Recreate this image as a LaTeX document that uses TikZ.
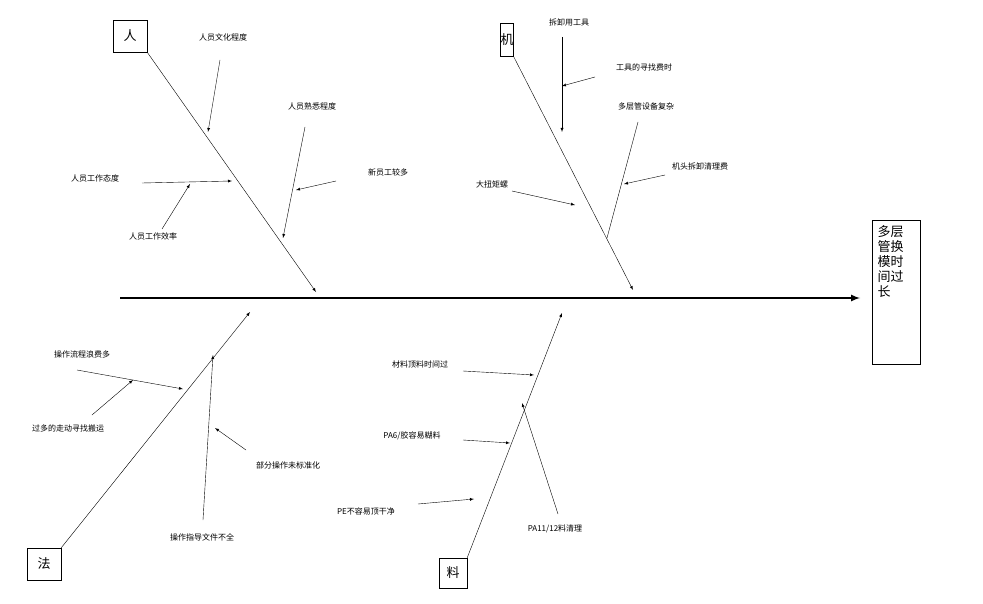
\documentclass[tikz,border=0pt]{standalone}
\usepackage{fontspec}
\setmainfont{Noto Sans CJK SC}
\begin{document}
\begin{tikzpicture}[x=1pt,y=-1pt,font=\fontsize{8}{9}\selectfont,
  lbl/.style={inner sep=1pt},
  cat/.style={draw=black,inner sep=2pt,font=\fontsize{13}{14}\selectfont},
  ar/.style={-latex,thin}]
\useasboundingbox (0,0) rectangle (983,604);
% effect and spine
\node[draw=black, minimum width=48, minimum height=144, anchor=north west, inner sep=0pt] (eff) at (872,220) {};
\node[anchor=north west, align=left, font=\fontsize{13}{15}\selectfont] (efft) at (874,222) {多层\\管换\\模时\\间过\\长};
\coordinate (s0) at (120,298);
\coordinate (s1) at (860,298);
\draw[-latex, line width=2pt] (s0) -- (s1);

% categories
\node[cat, minimum width=34, minimum height=32] (ren) at (130,36) {人};
\node[cat, minimum width=11, minimum height=33, inner sep=0pt] (ji) at (507,40) {机};
\node[cat, minimum width=34, minimum height=32] (fa) at (44,564) {法};
\node[cat, minimum width=28, minimum height=30] (liao) at (453,573) {料};

\coordinate (ren1) at (316,292);
\coordinate (ji1) at (633,290);
\coordinate (fa1) at (250,312);
\coordinate (liao1) at (562,313);
\draw[ar] (ren.south east) -- (ren1);
\draw[ar] (ji.south east) -- (ji1);
\draw[ar] (fa.north east) -- (fa1);
\draw[ar] (liao.north east) -- (liao1);

% 人
\node[lbl] (r1) at (223,37) {人员文化程度};
\node[lbl] (r2) at (312,106) {人员熟悉程度};
\node[lbl] (r3) at (388,172) {新员工较多};
\node[lbl] (r4) at (95,178) {人员工作态度};
\node[lbl] (r5) at (153,236) {人员工作效率};
\coordinate (r1a) at (220,60);  \coordinate (r1b) at (208,132);
\coordinate (r2a) at (305,127); \coordinate (r2b) at (283,238);
\coordinate (r3a) at (336,181); \coordinate (r3b) at (296,190);
\coordinate (r4a) at (142,183); \coordinate (r4b) at (232,181);
\coordinate (r5a) at (162,229); \coordinate (r5b) at (190,184);
\draw[ar] (r1a) -- (r1b);
\draw[ar] (r2a) -- (r2b);
\draw[ar] (r3a) -- (r3b);
\draw[ar] (r4a) -- (r4b);
\draw[ar] (r5a) -- (r5b);

% 机
\node[lbl] (j1) at (569,22) {拆卸用工具};
\node[lbl] (j2) at (644,67) {工具的寻找费时};
\node[lbl] (j3) at (646,106) {多层管设备复杂};
\node[lbl] (j4) at (700,166) {机头拆卸清理费};
\node[lbl] (j5) at (492,184) {大扭矩螺};
\coordinate (j1a) at (562,37);  \coordinate (j1b) at (562,132);
\coordinate (j2a) at (595,77);  \coordinate (j2b) at (562,86);
\coordinate (j3a) at (638,122); \coordinate (j3b) at (607,238);
\coordinate (j4a) at (665,175); \coordinate (j4b) at (624,184);
\coordinate (j5a) at (512,191); \coordinate (j5b) at (575,205);
\draw[ar] (j1a) -- (j1b);
\draw[ar] (j2a) -- (j2b);
\draw (j3a) -- (j3b);
\draw[ar] (j4a) -- (j4b);
\draw[ar] (j5a) -- (j5b);

% 法
\node[lbl] (f1) at (82,354) {操作流程浪费多};
\node[lbl] (f2) at (68,428) {过多的走动寻找搬运};
\node[lbl] (f3) at (288,465) {部分操作未标准化};
\node[lbl] (f4) at (202,537) {操作指导文件不全};
\coordinate (f1a) at (77,370);  \coordinate (f1b) at (183,389);
\coordinate (f2a) at (92,415);  \coordinate (f2b) at (133,380);
\coordinate (f3a) at (246,450); \coordinate (f3b) at (215,428);
\coordinate (f4a) at (203,520); \coordinate (f4b) at (213,355);
\draw[ar] (f1a) -- (f1b);
\draw[ar] (f2a) -- (f2b);
\draw[ar] (f3a) -- (f3b);
\draw[ar] (f4a) -- (f4b);

% 料
\node[lbl] (l1) at (420,364) {材料顶料时间过};
\node[lbl] (l2) at (412,436) {PA6/胶容易糊料};
\node[lbl] (l3) at (366,511) {PE不容易顶干净};
\node[lbl] (l4) at (555,529) {PA11/12料清理};
\coordinate (l1a) at (463,371); \coordinate (l1b) at (534,375);
\coordinate (l2a) at (463,440); \coordinate (l2b) at (510,443);
\coordinate (l3a) at (418,504); \coordinate (l3b) at (474,499);
\coordinate (l4a) at (558,514); \coordinate (l4b) at (522,403);
\draw[ar] (l1a) -- (l1b);
\draw[ar] (l2a) -- (l2b);
\draw[ar] (l3a) -- (l3b);
\draw[ar] (l4a) -- (l4b);
\end{tikzpicture}
\end{document}
